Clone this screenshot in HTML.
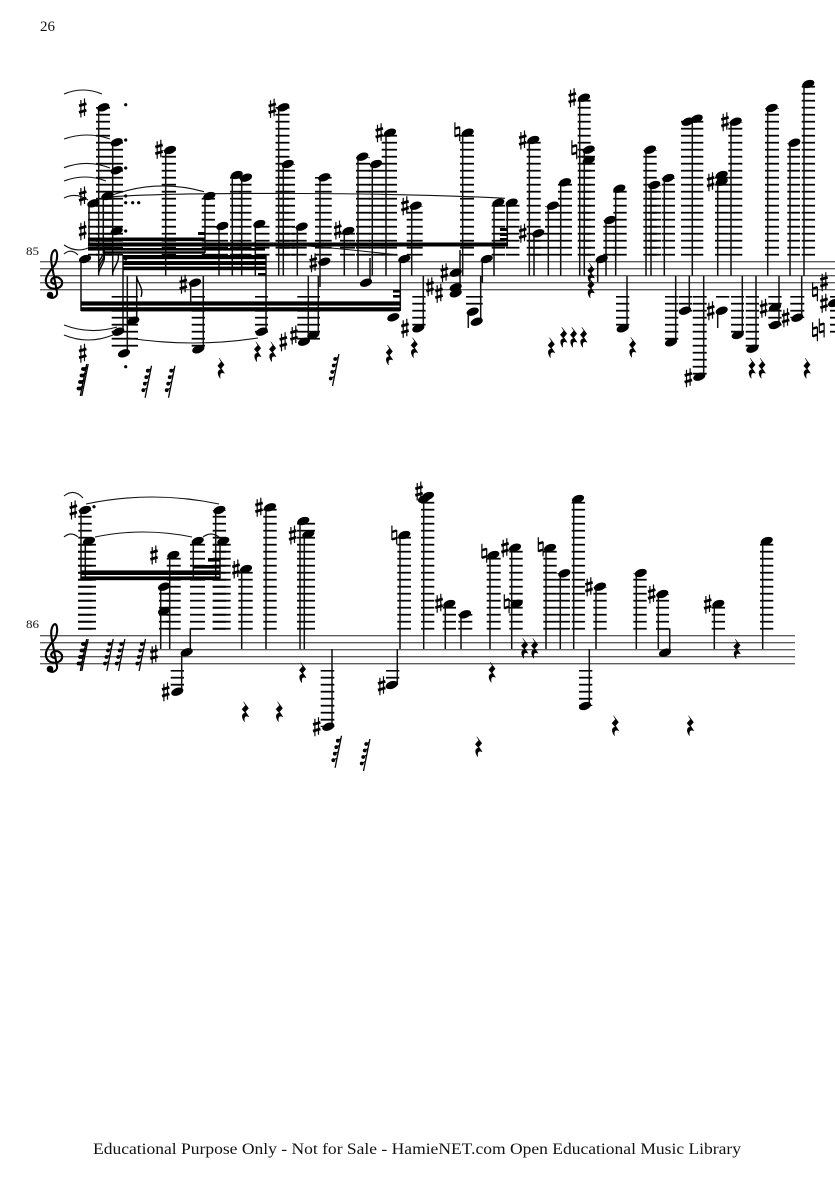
<!DOCTYPE html>
<html><head><meta charset="utf-8"><title>Score page 26</title>
<style>html,body{margin:0;padding:0;background:#fff}svg{display:block}text{font-family:"Liberation Serif",serif;fill:#111}</style>
</head><body>
<svg xmlns="http://www.w3.org/2000/svg" width="835" height="1181" viewBox="0 0 835 1181">
<defs>
<pattern id="a" patternUnits="userSpaceOnUse" x="0" y="253.8" width="1000" height="7"><rect width="1000" height="1.8" fill="#000"/></pattern>
<pattern id="b" patternUnits="userSpaceOnUse" x="0" y="627.8" width="1000" height="7"><rect width="1000" height="1.8" fill="#000"/></pattern>
<ellipse id="h" rx="6.3" ry="3.8" transform="rotate(-20)" fill="#000"/>
<g id="s" stroke="#000" fill="none"><path d="M-1.8-8V9.5M1.8-9.5V8" stroke-width="1.2"/><path d="M-3.7-2.2L3.7-4.4M-3.7 4.4L3.7 2.2" stroke-width="2.8"/></g>
<g id="n" stroke="#000" fill="none"><path d="M-2.4-9.5V5M2.4-5V9.5" stroke-width="1.2"/><path d="M-2.4-3L2.4-4.5M-2.4 4.5L2.4 3" stroke-width="2.4"/></g>
<path id="r" d="M-1.5-10L3.5-3.5L.5 0L3.8 5C1 3.8-1.5 4.5-.5 10C-4 5.5-3 1 .5 1.5L-3-2.5L.5-6.5Z" fill="#000" stroke="#000" stroke-width=".5"/>
<g id="t" fill="#000"><path d="M3.2-16L-3.2 16" stroke="#000" stroke-width="1.3"/><circle cx="-.5" cy="-11" r="1.9"/><circle cx="-2" cy="-4.5" r="1.9"/><circle cx="-3.5" cy="2" r="1.9"/><circle cx="-5" cy="8.5" r="1.9"/><path d="M-.5-11L2.4-12.8M-2-4.5L1-6.3M-3.5 2L-.3.2M-5 8.5L-1.8 6.7" stroke="#000" stroke-width="1.2"/></g>
<g id="c"><path d="M55 284C51 284 50 280 53 278C58 275 63 280 62 284C61 289 51 291 47 285C43 278 50 271 54 266C58 261 58 251 55 250C52 251 50 257 52 266L57 292C58 298 50 300 48 295" fill="none" stroke="#000" stroke-width="2.1"/><circle cx="50" cy="295" r="3.3" fill="#000"/></g>
</defs>

<text x="40" y="31" font-size="15">26</text>
<text x="26" y="255" font-size="12" textLength="13" lengthAdjust="spacingAndGlyphs">85</text>
<text x="26" y="628" font-size="12" textLength="13" lengthAdjust="spacingAndGlyphs">86</text>
<text x="93" y="1154" font-size="16" textLength="648" lengthAdjust="spacingAndGlyphs">Educational Purpose Only - Not for Sale - HamieNET.com Open Educational Music Library</text>

<!-- staves -->
<path d="M40 261.7H835M40 268.7H835M40 275.7H835M40 282.7H835M40 289.7H835" stroke="#5e5e5e" stroke-width="1.4"/>
<path d="M40 635.7H795M40 642.7H795M40 649.7H795M40 656.7H795M40 663.7H795" stroke="#5e5e5e" stroke-width="1.4"/>
<use href="#c"/><use href="#c" y="374"/>

<!-- ledgers staff 1 above -->
<g fill="url(#a)">
<rect x="96" y="107" width="14" height="149"/><rect x="110" y="142" width="13" height="114"/><rect x="88" y="203" width="10" height="53"/><rect x="101.7" y="196" width="11.3" height="60"/><rect x="161.7" y="150" width="14.3" height="106"/><rect x="201.7" y="196" width="13.3" height="60"/><rect x="215" y="226" width="13" height="30"/><rect x="230" y="175" width="11.7" height="81"/><rect x="239.5" y="178" width="12" height="78"/><rect x="255" y="224" width="14.5" height="32"/><rect x="275.5" y="107" width="14" height="149"/><rect x="280" y="164" width="15" height="92"/><rect x="291.7" y="227" width="15" height="29"/><rect x="315" y="177" width="16.7" height="79"/><rect x="340" y="231" width="15" height="25"/><rect x="356" y="157" width="14" height="99"/><rect x="369" y="164" width="13.5" height="92"/><rect x="381.7" y="133" width="15.3" height="123"/><rect x="406.7" y="206" width="16" height="50"/><rect x="460" y="133" width="14" height="123"/><rect x="491.7" y="203" width="13.5" height="53"/><rect x="506" y="203" width="13.5" height="53"/><rect x="526.7" y="140" width="14" height="116"/><rect x="530" y="233" width="15" height="23"/><rect x="545" y="206" width="13.3" height="50"/><rect x="558" y="182" width="14" height="74"/><rect x="577.7" y="98" width="13" height="158"/><rect x="581.7" y="150" width="13.3" height="106"/><rect x="603.3" y="220" width="13.4" height="36"/><rect x="613.3" y="189" width="13.4" height="67"/><rect x="643.3" y="150" width="13.4" height="106"/><rect x="648.3" y="185" width="12.7" height="71"/><rect x="661.7" y="178" width="13.3" height="78"/><rect x="681" y="119" width="22.3" height="137"/><rect x="715" y="175" width="13.3" height="81"/><rect x="728.3" y="122" width="14" height="134"/><rect x="765" y="108" width="14" height="148"/><rect x="787.3" y="143" width="12.7" height="113"/><rect x="801.7" y="84" width="13.3" height="172"/>
<!-- below -->
<rect x="111.7" y="296" width="26.3" height="52"/><rect x="191.7" y="296" width="13.3" height="54"/><rect x="255" y="296" width="13" height="37"/><rect x="297.3" y="296" width="22.7" height="46"/><rect x="412.3" y="296" width="13.3" height="33"/><rect x="466" y="296" width="16.7" height="9"/><rect x="616" y="296" width="13.3" height="33"/><rect x="665" y="296" width="13.3" height="47"/><rect x="679" y="296" width="13" height="16"/><rect x="692.7" y="296" width="14" height="81"/><rect x="716" y="296" width="13.3" height="2"/><rect x="731" y="296" width="13" height="40"/><rect x="745.7" y="296" width="13.3" height="53"/><rect x="768.3" y="296" width="13.3" height="30"/><rect x="790.3" y="296" width="14" height="22"/><rect x="830" y="296" width="5" height="40"/>
</g>
<!-- ledgers staff 2 -->
<g fill="url(#b)">
<rect x="78.3" y="510" width="13.4" height="120"/><rect x="78" y="541" width="18" height="89"/><rect x="159" y="587" width="11" height="43"/><rect x="166.7" y="555" width="14" height="75"/><rect x="190" y="541" width="15" height="89"/><rect x="212.7" y="510" width="13.3" height="120"/><rect x="212.7" y="541" width="18" height="89"/><rect x="238.3" y="569" width="14.4" height="61"/><rect x="263.3" y="507" width="13.4" height="123"/><rect x="297" y="521" width="18" height="109"/><rect x="397.3" y="535" width="13.7" height="95"/><rect x="421" y="497" width="13.3" height="133"/><rect x="442.7" y="604" width="13.3" height="26"/><rect x="458.3" y="614" width="14" height="16"/><rect x="486.7" y="555" width="14" height="75"/><rect x="509.3" y="548" width="13.4" height="82"/><rect x="543.3" y="548" width="13.4" height="82"/><rect x="556.7" y="573" width="13.3" height="57"/><rect x="571.7" y="500" width="13.3" height="130"/><rect x="593.3" y="587" width="13.4" height="43"/><rect x="633.3" y="573" width="13.4" height="57"/><rect x="656" y="594" width="13" height="36"/><rect x="711.7" y="604" width="13.3" height="26"/><rect x="760" y="541" width="13.3" height="89"/>
<rect x="170.7" y="670" width="13.3" height="16"/><rect x="320.7" y="670" width="13.6" height="57"/><rect x="386" y="670" width="13.3" height="9"/><rect x="579" y="670" width="13.3" height="36"/>
</g>

<!-- stems -->
<path fill="none" stroke="#111" stroke-width="1.5" d="
M98.7 107V276M112.7 142V276M89 203V243M103.3 196V253M165.7 150V276M205 196V253M219 226V276M232.3 175V276M241.7 178V276M255.3 224V276M278.7 107V276M283.3 164V276M297.3 227V276M320 177V287M344.3 231V276M358 157V276M372.3 164V276M386 133V276M411.7 206V276M462.7 133V276M494 203V276M507.3 203V245M529.3 140V276M534 233V276M548.3 206V276M560.7 182V276M579.7 98V276M584.3 150V276M597.7 259V282M606 220V276M615.7 189V276M646 150V276M651 185V276M664.3 178V276M692.3 119V276M717.7 175V276M731 122V276M767.7 108V276M790 143V276M804 84V276
M81 259V311M123 255V331M127.3 276V353M136.7 276V321M190.7 282V303M203.3 276V349M266 255V331M308.3 276V341M318.3 276V335M400.3 259V311M423.3 276V328M370 258V282M460 250V293M482.3 259V283M480.7 276V322M468.3 313V328M627 276V328M675.7 276V342M689.3 276V311M703.7 276V377M717.7 311V328M742.3 276V335M756 276V349M779 276V325M801.7 276V318
M81 510V580M85.3 541V580M193.3 541V580M215.7 510V580M220 541V580M160.7 587V649M169.7 555V649M190.3 652V629H203M181.7 652V692M241.7 569V649M266 507V649M300 521V649M304.3 534V649M332 649V727M400 535V649M397.3 649V685M423.7 497V649M445.3 604V649M461 614V649M490 555V649M511.7 548V649M546 548V649M560.3 573V649M573.7 500V649M596 587V649M589.3 649V706M636.3 573V649M658.3 594V649M669.7 652V629H656M714.3 604V649M762.7 541V649"/>

<!-- beams -->
<g fill="#000">
<rect x="88" y="237.5" width="117" height="3.6"/><rect x="88" y="242.5" width="420" height="4"/><rect x="88" y="248" width="177" height="2.6"/><rect x="103" y="251.3" width="102" height="2.4"/>
<rect x="123" y="255" width="143" height="4.2"/><rect x="123" y="261" width="143" height="4"/><rect x="123" y="266.6" width="143" height="3.6"/>
<rect x="81" y="301.4" width="319" height="4.2"/><rect x="81" y="307.2" width="319" height="4.2"/>
<rect x="198" y="232" width="7" height="3"/><rect x="258" y="273" width="8" height="2.6"/><rect x="393" y="290" width="7" height="2.6"/><rect x="393" y="295" width="7" height="2.6"/>
<rect x="500" y="228" width="8" height="3"/><rect x="500" y="233" width="8" height="3"/><rect x="500" y="238" width="8" height="3"/>
<rect x="81" y="570.4" width="139" height="4.6"/><rect x="81" y="576.4" width="139" height="3.8"/><rect x="193" y="565" width="27" height="3.6"/><rect x="208" y="558" width="12" height="3.6"/>
</g>
<!-- flags -->
<g fill="none" stroke="#000" stroke-width="1.4">
<path d="M98.7 273C100 266 106 262 104 254M98.7 268C100 262 106 258 104 250M98.7 263C100 258 105 255 104 248"/>
<path d="M112.7 273C114 266 120 262 118 254"/>
<path d="M136.7 277C138 284 144 288 141 297"/>
</g>

<!-- slurs -->
<g fill="none" stroke="#111" stroke-width="1.1">
<path d="M64 94Q83 86 102 94"/><path d="M64 139Q87 131 110 139"/><path d="M64 167.7Q87 159 110 168"/><path d="M64 181Q85 173 106 181"/><path d="M64 198Q76 192 88 200"/>
<path d="M107 197Q155 178 204 191.7"/><path d="M110 197Q160 193 300 193.5Q420 194 505 198.3"/>
<path d="M64 245Q76 253 88 248"/><path d="M64 254Q71 248 78 255"/><path d="M64 325Q90 335 117 327"/><path d="M64 335Q88 345 113 335"/><path d="M128 338Q193 348 258 338"/><path d="M266 243Q330 247 398 255"/>
<path d="M64 496Q74 488 83 498"/><path d="M86 504Q152 490 219 504"/><path d="M64 537Q71 531 78 537"/><path d="M95 537Q143 527 192 537"/><path d="M203 537Q211 531 219 537"/>
</g>

<!-- noteheads staff 1 -->
<use href="#h" x="103.3" y="107.3"/><use href="#h" x="116.7" y="142.3"/><use href="#h" x="116.7" y="170.3"/><use href="#h" x="116.7" y="231"/><use href="#h" x="93.3" y="203.3"/><use href="#h" x="107.3" y="196"/><use href="#h" x="170" y="150"/><use href="#h" x="209.3" y="196"/><use href="#h" x="222.3" y="226"/><use href="#h" x="236.7" y="175"/><use href="#h" x="246" y="177.7"/><use href="#h" x="259.3" y="224"/><use href="#h" x="283.3" y="107.3"/><use href="#h" x="287.7" y="164"/><use href="#h" x="301.7" y="226.7"/><use href="#h" x="324.3" y="177.3"/><use href="#h" x="324.3" y="261.7"/><use href="#h" x="348.3" y="231"/><use href="#h" x="362.3" y="156.7"/><use href="#h" x="376" y="164"/><use href="#h" x="366" y="282.7"/><use href="#h" x="390" y="132.7"/><use href="#h" x="415.7" y="205.7"/><use href="#h" x="404.3" y="259"/><use href="#h" x="467.7" y="132.7"/><use href="#h" x="498.3" y="202.7"/><use href="#h" x="511.7" y="202.7"/><use href="#h" x="533.3" y="140"/><use href="#h" x="538.3" y="233.3"/><use href="#h" x="552.7" y="205.7"/><use href="#h" x="565" y="182.3"/><use href="#h" x="584" y="97.7"/><use href="#h" x="588.7" y="149.7"/><use href="#h" x="588.7" y="160.3"/><use href="#h" x="601.7" y="259"/><use href="#h" x="610" y="220"/><use href="#h" x="619.3" y="188.7"/><use href="#h" x="650" y="149.7"/><use href="#h" x="654.3" y="185"/><use href="#h" x="668.3" y="178"/><use href="#h" x="687.7" y="121.7"/><use href="#h" x="696.7" y="118.7"/><use href="#h" x="721.7" y="175"/><use href="#h" x="721.7" y="181.7"/><use href="#h" x="735.7" y="121.7"/><use href="#h" x="771.7" y="108"/><use href="#h" x="794.3" y="142.7"/><use href="#h" x="808.3" y="84"/>
<use href="#h" x="622.7" y="328.3"/><use href="#h" x="671" y="342.3"/><use href="#h" x="685" y="310.7"/><use href="#h" x="699.3" y="376.7"/><use href="#h" x="721.7" y="310.7"/><use href="#h" x="737.7" y="335"/><use href="#h" x="752.3" y="348.7"/><use href="#h" x="775" y="307.3"/><use href="#h" x="775" y="325"/><use href="#h" x="797.3" y="317.7"/><use href="#h" x="834" y="303"/>
<use href="#h" x="304" y="341.7"/><use href="#h" x="313.3" y="335"/><use href="#h" x="393.3" y="317.3"/><use href="#h" x="418.3" y="328.3"/><use href="#h" x="455.7" y="272.7"/><use href="#h" x="455.7" y="287.3"/><use href="#h" x="455.7" y="293.3"/><use href="#h" x="486.7" y="259"/><use href="#h" x="472.7" y="311.7"/><use href="#h" x="476.7" y="321.7"/>
<use href="#h" x="118.3" y="331.7"/><use href="#h" x="124" y="353.3"/><use href="#h" x="133.3" y="320.7"/><use href="#h" x="198.3" y="349.3"/><use href="#h" x="195" y="282.7"/><use href="#h" x="261.7" y="331.7"/><use href="#h" x="85" y="259"/>

<!-- noteheads staff 2 -->
<use href="#h" x="85" y="510"/><use href="#h" x="89" y="541"/><use href="#h" x="197.7" y="541"/><use href="#h" x="219.3" y="510"/><use href="#h" x="223.3" y="541"/><use href="#h" x="164" y="586.7"/><use href="#h" x="164" y="611"/><use href="#h" x="173.3" y="555"/><use href="#h" x="186.7" y="652.3"/><use href="#h" x="177.3" y="691.7"/><use href="#h" x="246" y="569"/><use href="#h" x="270" y="507.3"/><use href="#h" x="303.3" y="521"/><use href="#h" x="308.3" y="534.3"/><use href="#h" x="328.3" y="726.7"/><use href="#h" x="404.3" y="535"/><use href="#h" x="391.7" y="685"/><use href="#h" x="428" y="496"/><use href="#h" x="424" y="499"/><use href="#h" x="449.3" y="604"/><use href="#h" x="465" y="614.3"/><use href="#h" x="493.3" y="555"/><use href="#h" x="515" y="547.7"/><use href="#h" x="516.7" y="603.7"/><use href="#h" x="550" y="548"/><use href="#h" x="564.3" y="573.3"/><use href="#h" x="578" y="499"/><use href="#h" x="600" y="586.7"/><use href="#h" x="585" y="706"/><use href="#h" x="640.7" y="573"/><use href="#h" x="662.3" y="594"/><use href="#h" x="665" y="652.7"/><use href="#h" x="718.3" y="604"/><use href="#h" x="766.7" y="541"/>

<!-- sharps -->
<use href="#s" x="82.7" y="108"/><use href="#s" x="82.7" y="196"/><use href="#s" x="82.7" y="230.7"/><use href="#s" x="159" y="149.3"/><use href="#s" x="272.3" y="108.3"/><use href="#s" x="313.3" y="262.7"/><use href="#s" x="337.7" y="230"/><use href="#s" x="379.3" y="132.7"/><use href="#s" x="405" y="205.7"/><use href="#s" x="522.7" y="140"/><use href="#s" x="522.7" y="233.3"/><use href="#s" x="572.3" y="97.7"/><use href="#s" x="710.7" y="181.7"/><use href="#s" x="725" y="121.7"/><use href="#s" x="688.3" y="377.7"/><use href="#s" x="710.7" y="310.7"/><use href="#s" x="763.7" y="308.3"/><use href="#s" x="785.7" y="317.7"/><use href="#s" x="824" y="281.7"/><use href="#s" x="824" y="303.3"/><use href="#s" x="283.3" y="341.7"/><use href="#s" x="294" y="335"/><use href="#s" x="405" y="328.3"/><use href="#s" x="444.3" y="272.7"/><use href="#s" x="430" y="286.7"/><use href="#s" x="439" y="293.3"/><use href="#s" x="183.3" y="284.3"/><use href="#s" x="82.7" y="353.3"/>
<use href="#s" x="73.3" y="510"/><use href="#s" x="154" y="555"/><use href="#s" x="154" y="654.3"/><use href="#s" x="165.7" y="691.7"/><use href="#s" x="236" y="569"/><use href="#s" x="259" y="507.3"/><use href="#s" x="292.7" y="535"/><use href="#s" x="316.7" y="726.7"/><use href="#s" x="381.7" y="685.7"/><use href="#s" x="419" y="491"/><use href="#s" x="439" y="603.3"/><use href="#s" x="505" y="547.7"/><use href="#s" x="589" y="586.7"/><use href="#s" x="651.7" y="594"/><use href="#s" x="707.7" y="604"/>

<!-- naturals -->
<use href="#n" x="457.3" y="131.7"/><use href="#n" x="574.3" y="149.7"/><use href="#n" x="815" y="291.7"/><use href="#n" x="815" y="331.7"/><use href="#n" x="821.7" y="328"/><use href="#n" x="394.3" y="535"/><use href="#n" x="484.3" y="553.3"/><use href="#n" x="506.7" y="603.7"/><use href="#n" x="540.7" y="546.7"/>

<!-- quarter rests -->
<use href="#r" x="220.7" y="368.3"/><use href="#r" x="257.3" y="351.7"/><use href="#r" x="272.3" y="351.7"/><use href="#r" x="389" y="355"/><use href="#r" x="414" y="347.7"/><use href="#r" x="551" y="347.7"/><use href="#r" x="563.3" y="337.3"/><use href="#r" x="573.3" y="337.3"/><use href="#r" x="583.3" y="337.3"/><use href="#r" x="632.3" y="347.3"/><use href="#r" x="590.7" y="273"/><use href="#r" x="590.7" y="288"/><use href="#r" x="751.7" y="368.3"/><use href="#r" x="761.7" y="368.3"/><use href="#r" x="806.7" y="368.3"/>
<use href="#r" x="245" y="711.7"/><use href="#r" x="279" y="711.7"/><use href="#r" x="302.3" y="672.7"/><use href="#r" x="491.7" y="672.3"/><use href="#r" x="524.3" y="648.3"/><use href="#r" x="534.3" y="648.3"/><use href="#r" x="478.3" y="746.7"/><use href="#r" x="615" y="725.7"/><use href="#r" x="690" y="725.7"/><use href="#r" x="736.7" y="649"/>

<!-- 32nd rests -->
<use href="#t" x="85" y="380"/><use href="#t" x="83.5" y="380"/><use href="#t" x="148.3" y="381.7"/><use href="#t" x="171.7" y="381.7"/><use href="#t" x="335.7" y="370"/>
<use href="#t" x="85" y="655"/><use href="#t" x="83.5" y="655"/><use href="#t" x="110" y="655"/><use href="#t" x="121.7" y="655"/><use href="#t" x="142.3" y="655"/><use href="#t" x="338.3" y="751.7"/><use href="#t" x="366.7" y="755"/>

<!-- dots -->
<g fill="#000"><circle cx="125.7" cy="104.7" r="1.6"/><circle cx="125.7" cy="140" r="1.6"/><circle cx="125.7" cy="168" r="1.6"/><circle cx="125.7" cy="196" r="1.6"/><circle cx="125.7" cy="202.7" r="1.6"/><circle cx="132.7" cy="202.7" r="1.6"/><circle cx="138.7" cy="202.7" r="1.6"/><circle cx="125.7" cy="231" r="1.6"/><circle cx="125.7" cy="259" r="1.6"/><circle cx="125.7" cy="366.7" r="1.6"/><circle cx="94" cy="506.7" r="1.6"/></g>
</svg>
</body></html>
